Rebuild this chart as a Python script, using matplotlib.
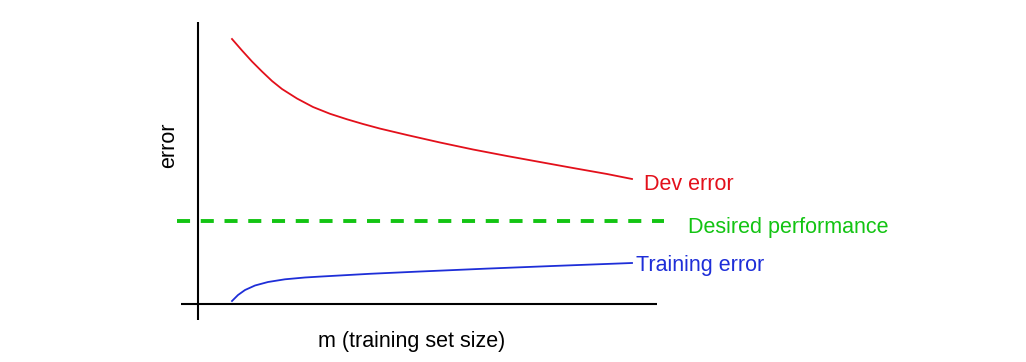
import numpy as np
import matplotlib
matplotlib.use("Agg")
import matplotlib.pyplot as plt

plt.rcParams['font.family'] = ['Liberation Sans', 'DejaVu Sans']
plt.rcParams['lines.scale_dashes'] = False

# training set size (arbitrary units) and error values
dev_m = [0.0739, 0.0957, 0.1174, 0.1391, 0.1609, 0.1826, 0.2152, 0.2500, 0.2870, 0.3239,
         0.3587, 0.3957, 0.4543, 0.5261, 0.5978, 0.6717, 0.7435, 0.8152, 0.8891, 0.9435]
dev_err = [0.9397, 0.8989, 0.8599, 0.8245, 0.7908, 0.7624, 0.7287, 0.6986, 0.6745, 0.6550,
           0.6383, 0.6220, 0.5993, 0.5727, 0.5479, 0.5248, 0.5035, 0.4823, 0.4610, 0.4433]

train_m = [0.0739, 0.0870, 0.1022, 0.1239, 0.1522, 0.1891, 0.2326, 0.2652, 0.3739, 0.4826,
           0.6283, 0.7717, 0.9435]
train_err = [0.0106, 0.0319, 0.0496, 0.0656, 0.0780, 0.0876, 0.0940, 0.0972, 0.1071, 0.1152,
             0.1255, 0.1348, 0.1454]

desired_err = 0.294
desired_span = [-0.0467, 1.013]

RED = '#e3101b'
GREEN = '#13c413'
BLUE = '#1e2ed8'

W, H = 1026, 362
fig = plt.figure(figsize=(W / 100, H / 100), dpi=100)
ax = fig.add_axes([0, 0, 1, 1])
ax.axis('off')

# map data so the origin sits where the hand-drawn axes cross
x0, sx = 198, 460
y0, sy = 304, 282
ax.set_xlim(-x0 / sx, (W - x0) / sx)
ax.set_ylim((y0 - H) / sy, y0 / sy)

# hand-drawn axes
ax.plot([0, 0], [-0.057, 1.0], color='black', lw=1.5, solid_capstyle='butt')
ax.plot([-0.037, 0.998], [0, 0], color='black', lw=1.5, solid_capstyle='butt')

ax.plot(dev_m, dev_err, color=RED, lw=1.3, solid_joinstyle='round')
ax.plot(train_m, train_err, color=BLUE, lw=1.3, solid_joinstyle='round')
ax.plot(desired_span, [desired_err, desired_err], color=GREEN, lw=2.8,
        dashes=(9.4, 7.7), dash_capstyle='butt')

def px(x, y):
    return x / W, 1 - y / H

fig.text(*px(644, 184), 'Dev error', color=RED, fontsize=15.5, ha='left', va='center')
fig.text(*px(688, 227), 'Desired performance', color=GREEN, fontsize=15.5, ha='left', va='center')
fig.text(*px(636, 266), 'Training error', color=BLUE, fontsize=15.5, ha='left', va='center')
fig.text(*px(412, 341), 'm (training set size)', color='black', fontsize=15.5, ha='center', va='center')
fig.text(*px(169, 145.5), 'error', color='black', fontsize=15.5, ha='center', va='center', rotation=90)

fig.savefig('out.png', dpi=100)
